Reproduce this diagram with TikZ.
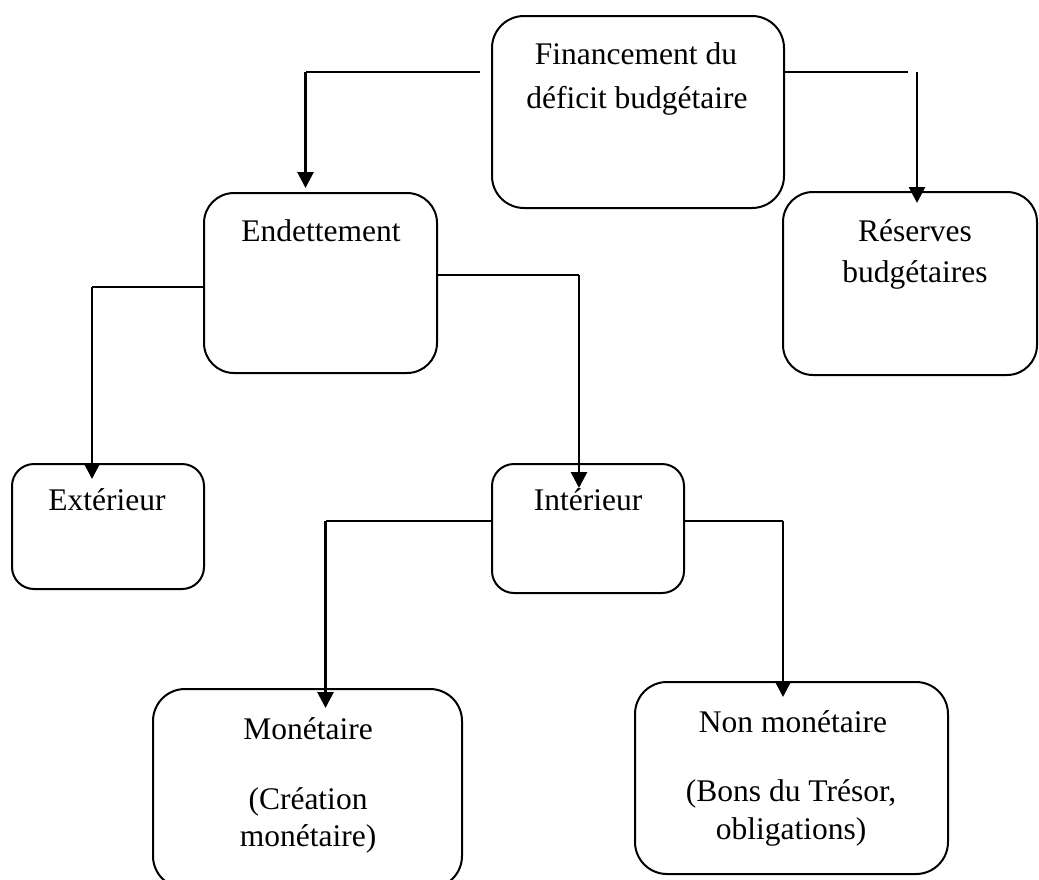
\documentclass[tikz,border=0pt]{standalone}
\usepackage{fontspec}
\setmainfont{Liberation Serif}
\usetikzlibrary{arrows.meta}
\begin{document}
\begin{tikzpicture}[x=1pt,y=-1pt,
  box/.style={draw, line width=2pt, inner sep=0pt, outer sep=0pt},
  lbl/.style={anchor=base, inner sep=0pt, font=\fontsize{31.5}{38}\selectfont},
  hline/.style={line width=2pt},
  vline/.style={line width=2.8pt, -{Triangle[width=16pt,length=16pt]}},
]
\useasboundingbox (0,0) rectangle (1039,879);

% boxes
\begin{scope}
\clip (0,0) rectangle (1039,879);
\node[box, minimum width=292pt, minimum height=192pt, rounded corners=32pt] (fin) at (638,112) {};
\node[box, minimum width=233pt, minimum height=180pt, rounded corners=30pt] (end) at (320.5,283) {};
\node[box, minimum width=254pt, minimum height=183pt, rounded corners=30pt] (res) at (910,283.5) {};
\node[box, minimum width=192pt, minimum height=125pt, rounded corners=22pt] (ext) at (108,526.5) {};
\node[box, minimum width=192pt, minimum height=129pt, rounded corners=22pt] (int) at (588,528.5) {};
\node[box, minimum width=309pt, minimum height=199pt, rounded corners=32pt] (mon) at (307.5,788.5) {};
\node[box, minimum width=313pt, minimum height=192pt, rounded corners=32pt] (non) at (791.5,778) {};
\end{scope}

% labels
\node[lbl] (finA) at (636,64) {Financement du};
\node[lbl] (finB) at (637,108) {déficit budgétaire};
\node[lbl] (endA) at (321,241) {Endettement};
\node[lbl] (resA) at (915,241) {Réserves};
\node[lbl] (resB) at (915,282) {budgétaires};
\node[lbl] (extA) at (107,510) {Extérieur};
\node[lbl] (intA) at (588,510) {Intérieur};
\node[lbl] (monA) at (308,739) {Monétaire};
\node[lbl] (monB) at (308,809) {(Création};
\node[lbl] (monC) at (308,846) {monétaire)};
\node[lbl] (nonA) at (793,732) {Non monétaire};
\node[lbl] (nonB) at (791,801) {(Bons du Trésor,};
\node[lbl] (nonC) at (791,839) {obligations)};

% bends of the connectors
\coordinate (fL) at (480,72);
\coordinate (fLb) at (305.5,72);
\coordinate (fRb) at (908,72);
\coordinate (fRv) at (917,72);
\coordinate (eLb) at (92,287);
\coordinate (eRb) at (579,275);
\coordinate (iLb) at (325.5,521);
\coordinate (iRb) at (783,521);

% Financement -> Endettement / Reserves
\draw[hline] (fL) -- (fLb);
\draw[vline, shorten >=5pt] (fLb) -- (fLb |- end.north);
\draw[hline] ([yshift=40pt]fin.east) -- (fRb);
\draw[vline, shorten >=-11pt] (fRv) -- (fRv |- res.north);

% Endettement -> Exterieur / Interieur
\draw[hline] ([yshift=-4pt]end.west) -- (eLb);
\draw[vline, shorten >=-15pt] (eLb) -- (eLb |- ext.north);
\draw[hline] ([yshift=8pt]end.east) -- (eRb);
\draw[vline, shorten >=-24pt] (eRb) -- (eRb |- int.north);

% Interieur -> Monetaire / Non monetaire
\draw[hline] ([yshift=7.5pt]int.west) -- (iLb);
\draw[vline, shorten >=-19pt] (iLb) -- (iLb |- mon.north);
\draw[hline] ([yshift=7.5pt]int.east) -- (iRb);
\draw[vline, shorten >=-15pt] (iRb) -- (iRb |- non.north);
\end{tikzpicture}
\end{document}
